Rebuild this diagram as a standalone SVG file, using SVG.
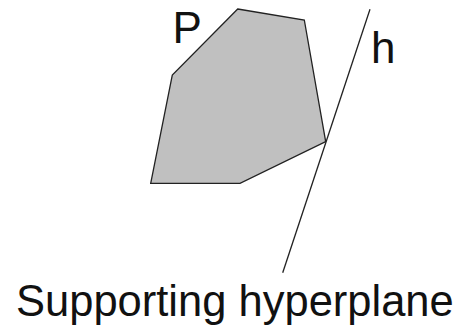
<svg xmlns="http://www.w3.org/2000/svg" width="462" height="327" viewBox="0 0 462 327">
<style>
text{font-family:"Liberation Sans",Arial,sans-serif;fill:#111}
.edge{stroke:#222;stroke-width:1.3;fill:none}
</style>
<rect width="462" height="327" fill="#fff"/>
<g id="P">
<polygon points="237.7,9 304.3,20 325.7,141.7 240,183.3 150.7,183.3 172.3,75" fill="#c0c0c0" stroke="#222" stroke-width="1.3" stroke-linejoin="miter"/>
<text x="172.5" y="42.5" font-size="44">P</text>
</g>
<g id="connectors">
<line class="edge" x1="370" y1="9.3" x2="282.7" y2="272.7"/>
</g>
<g id="h">
<text x="371" y="63" font-size="44">h</text>
</g>
<g id="label">
<text x="16" y="316" font-size="43.5">Supporting hyperplane</text>
</g>
</svg>
